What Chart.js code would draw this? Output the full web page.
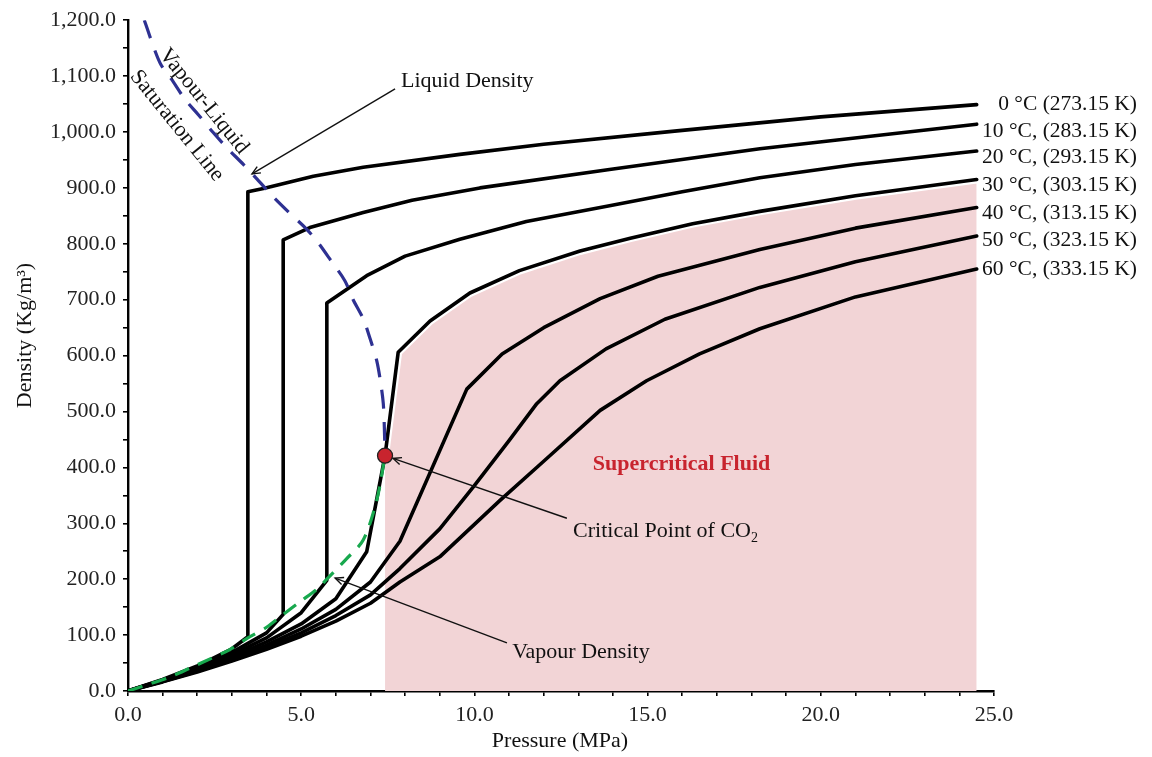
<!DOCTYPE html>
<html><head><meta charset="utf-8">
<script src="https://cdn.jsdelivr.net/npm/chart.js@4.4.0/dist/chart.umd.min.js"></script>
<style>html,body{margin:0;padding:0;background:#fff}#wrap{width:1152px;height:757px;position:relative}</style>
</head><body><div id="wrap"><canvas id="c"></canvas></div>
<script>
// ---------- data (pressure MPa, density kg/m3) ----------
const t0P  = [0, 1, 2, 3, 3.46, 3.46, 3.91, 5.35, 6.79, 9.58, 12.0, 15.85, 20.0, 24.5];
const t0D  = [0, 20.6, 44.7, 75.5, 97, 893, 899, 921, 937, 960, 978, 1002, 1027, 1049];
const t10P = [0, 1, 2, 3, 4, 4.48, 4.48, 5.25, 6.79, 8.2, 10.16, 13.9, 18.24, 24.5];
const t10D = [0, 19.8, 42.2, 69, 104, 137, 807, 829, 856, 878, 900, 933, 970, 1014];
const t20P = [0, 1, 2, 3, 4, 5, 5.74, 5.74, 6.89, 8.0, 9.58, 11.5, 13.9, 16.0, 18.24, 21.0, 24.5];
const t20D = [0, 19, 40.3, 65, 95, 140, 198, 694, 743, 778, 808, 840, 868, 893, 918, 942, 966];
const t30P = [0, 1, 2, 3, 4, 5, 6, 6.89, 7.42, 7.8, 8.72, 9.87, 11.3, 13.05, 14.5, 16.3, 18.24, 21.0, 24.5];
const t30D = [0, 18.2, 38.3, 61, 88, 120, 165, 249, 421, 606, 662, 712, 752, 787, 810, 836, 858, 886, 915];
const t40P = [0, 1, 2, 3, 4, 5, 6, 7, 7.85, 9.78, 10.8, 12.0, 13.63, 15.3, 18.24, 21.0, 24.5];
const t40D = [0, 17.5, 36.7, 58, 82, 111, 146, 195, 268, 540, 603, 650, 702, 742, 790, 828, 865];
const t50P = [0, 1, 2, 3, 4, 5, 6, 7, 7.85, 9.0, 9.97, 11.0, 11.8, 12.47, 13.8, 15.5, 18.24, 21.0, 24.5];
const t50D = [0, 16.9, 35.4, 55.5, 78, 104, 135, 172, 219, 290, 365, 448, 514, 555, 612, 665, 722, 768, 814];
const t60P = [0, 1, 2, 3, 4, 5, 6, 7, 7.85, 9.0, 10.74, 12.0, 13.63, 14.97, 16.5, 18.24, 21.0, 24.5];
const t60D = [0, 16.3, 34.1, 53.4, 74.6, 98, 125, 157, 195, 240, 341, 411, 502, 555, 603, 648, 705, 755];

// vapour-liquid saturation line (liquid side, blue) and vapour density (green)
const satLP = [0.47, 0.92, 1.26, 1.65, 2.03, 2.46, 2.85, 3.33, 3.72, 4.19, 4.63, 5.16, 5.49, 5.88, 6.26, 6.5, 6.79, 6.99, 7.18, 7.3, 7.37, 7.4, 7.42];
const satLD = [1200, 1124, 1094, 1058, 1031, 999, 972, 942, 916, 884, 857, 826, 802, 768, 734, 700, 666, 630, 591, 549, 514, 472, 421];
const satVP = [0, 0.54, 1.21, 1.79, 2.46, 2.94, 3.46, 4.0, 4.48, 4.97, 5.45, 5.74, 6.3, 6.79, 7.18, 7.42];
const satVD = [0, 11, 25, 41, 60, 74, 95, 114, 137, 160, 182, 200, 236, 270, 341, 421];

const critP = [7.42];
const critD = [421];

const tempLabels = ["0 \u00B0C (273.15 K)", "10 \u00B0C, (283.15 K)", "20 \u00B0C, (293.15 K)", "30 \u00B0C, (303.15 K)",
                    "40 \u00B0C, (313.15 K)", "50 \u00B0C, (323.15 K)", "60 \u00B0C, (333.15 K)"];
const tempLabelD = [1050, 1002, 955, 904, 854, 807, 755];

const xTickStep = 1, xLabelStep = 5;
const yTickStep = 50, yLabelStep = 100;

// ---------- build ----------
const FONT = '"Liberation Serif","Times New Roman",serif';
const pts = (P, D) => P.map((p, i) => ({x: p, y: D[i]}));

const fillP = [critP[0], critP[0]].concat(t30P.filter(p => p > critP[0]));
const fillD = [0, critD[0]].concat(t30D.filter((d, i) => t30P[i] > critP[0]));
const haloP = [critP[0]].concat(t30P.filter(p => p > critP[0]));
const haloD = [critD[0]].concat(t30D.filter((d, i) => t30P[i] > critP[0]));

const curve = (P, D) => ({data: pts(P, D), showLine: true, borderColor: '#000', borderWidth: 3.6,
  pointRadius: 0, tension: 0, fill: false, order: 10, borderJoinStyle: 'round', borderCapStyle: 'round'});

const datasets = [
  {data: pts(fillP, fillD), showLine: true, borderWidth: 0, borderColor: 'rgba(0,0,0,0)',
   backgroundColor: 'rgb(242,212,214)', fill: 'origin', pointRadius: 0, tension: 0, order: 30},
  {data: pts(haloP, haloD), showLine: true, borderWidth: 8, borderColor: '#fff', pointRadius: 0,
   tension: 0, fill: false, order: 25, borderJoinStyle: 'round'},
  curve(t0P, t0D), curve(t10P, t10D), curve(t20P, t20D), curve(t30P, t30D),
  curve(t40P, t40D), curve(t50P, t50D), curve(t60P, t60D),
  {data: pts(satLP, satLD), showLine: true, borderColor: 'rgb(46,49,146)', borderWidth: 3.2,
   borderDash: [19, 13], pointRadius: 0, tension: 0.3, fill: false, order: 3},
  {data: pts(satVP, satVD), showLine: true, borderColor: 'rgb(24,168,78)', borderWidth: 3.2,
   borderDash: [15, 10], pointRadius: 0, tension: 0.3, fill: false, order: 2},
  {data: pts(critP, critD), showLine: false, pointRadius: 7.5, pointBackgroundColor: 'rgb(200,36,46)',
   pointBorderColor: '#222', pointBorderWidth: 1.3, order: 1}
];

function fmtY(v) { return v.toLocaleString('en-US', {minimumFractionDigits: 1, maximumFractionDigits: 1}); }

function arrow(ctx, x1, y1, x2, y2) {
  const a = Math.atan2(y2 - y1, x2 - x1), L = 9, w = 0.42;
  ctx.beginPath(); ctx.moveTo(x1, y1); ctx.lineTo(x2, y2); ctx.stroke();
  ctx.beginPath();
  ctx.moveTo(x2 - L * Math.cos(a - w), y2 - L * Math.sin(a - w));
  ctx.lineTo(x2, y2);
  ctx.lineTo(x2 - L * Math.cos(a + w), y2 - L * Math.sin(a + w));
  ctx.stroke();
}

const annot = {
  id: 'annot',
  afterDraw(chart) {
    const ctx = chart.ctx, xs = chart.scales.x, ys = chart.scales.y;
    const X = v => xs.getPixelForValue(v), Y = v => ys.getPixelForValue(v);
    ctx.save();
    ctx.fillStyle = '#111'; ctx.strokeStyle = '#111'; ctx.lineWidth = 1.4;
    ctx.font = '22px ' + FONT;
    ctx.textAlign = 'left'; ctx.textBaseline = 'alphabetic';
    // Liquid density
    ctx.fillText('Liquid Density', X(7.88), Y(1080));
    arrow(ctx, X(7.71), Y(1077), X(3.58), Y(925));
    // Critical point
    const cx = X(critP[0]), cy = Y(critD[0]);
    const tx = X(12.67), ty = Y(309);
    const ang = Math.atan2(ty - cy, tx - cx);
    arrow(ctx, tx, ty, cx + 8.5 * Math.cos(ang), cy + 8.5 * Math.sin(ang));
    const s = 'Critical Point of CO';
    ctx.fillText(s, X(12.85), Y(276));
    const sw = ctx.measureText(s).width;
    ctx.font = '14px ' + FONT;
    ctx.fillText('2', X(12.85) + sw, Y(276) + 5);
    ctx.font = '22px ' + FONT;
    // Vapour density
    ctx.fillText('Vapour Density', X(11.09), Y(59));
    arrow(ctx, X(10.94), Y(86), X(5.98), Y(202));
    // Supercritical
    ctx.fillStyle = 'rgb(200,36,46)';
    ctx.font = 'bold 22px ' + FONT;
    ctx.fillText('Supercritical Fluid', X(13.42), Y(395));
    // Rotated saturation label
    ctx.fillStyle = '#111';
    ctx.font = '22px ' + FONT;
    ctx.textAlign = 'center'; ctx.textBaseline = 'middle';
    const rot = 51 * Math.PI / 180;
    [['Vapour-Liquid', 2.19, 1055], ['Saturation Line', 1.41, 1011]].forEach(([t, p, d]) => {
      ctx.save(); ctx.translate(X(p), Y(d)); ctx.rotate(rot); ctx.fillText(t, 0, 0); ctx.restore();
    });
    // temperature labels
    ctx.font = '21.5px ' + FONT;
    ctx.textAlign = 'right';
    tempLabels.forEach((t, i) => ctx.fillText(t, chart.chartArea.right + 143, Y(tempLabelD[i])));
    // axis titles
    ctx.font = '22px ' + FONT;
    ctx.textAlign = 'center';
    ctx.fillText('Pressure (MPa)', (chart.chartArea.left + chart.chartArea.right) / 2 - 1, 741);
    ctx.save(); ctx.translate(25, Y(636)); ctx.rotate(-Math.PI / 2);
    ctx.fillText('Density (Kg/m\u00B3)', 0, 0); ctx.restore();
    ctx.restore();
  }
};

new Chart(document.getElementById('c'), {
  type: 'scatter',
  data: {datasets},
  options: {
    responsive: true, maintainAspectRatio: false, animation: false,
    layout: {padding: {top: 19, right: 158, left: 0, bottom: 0}},
    plugins: {legend: {display: false}, tooltip: {enabled: false}},
    scales: {
      x: {
        type: 'linear', min: 0, max: 25,
        afterFit: s => { s.height = 66; },
        ticks: {stepSize: xTickStep, autoSkip: false, maxRotation: 0, padding: 6, color: '#222',
          font: {family: FONT, size: 22},
          callback: v => (Math.abs(v % xLabelStep) < 1e-9 ? v.toFixed(1) : '')},
        grid: {drawOnChartArea: false, drawTicks: true, tickLength: 5, color: '#000', lineWidth: 1.6},
        border: {display: true, color: '#000', width: 2.4}
      },
      y: {
        type: 'linear', min: 0, max: 1200,
        afterFit: s => { s.width = 128; },
        ticks: {stepSize: yTickStep, autoSkip: false, padding: 7, color: '#222',
          font: {family: FONT, size: 22},
          callback: v => (Math.abs(v % yLabelStep) < 1e-9 ? fmtY(v) : '')},
        grid: {drawOnChartArea: false, drawTicks: true, tickLength: 5, color: '#000', lineWidth: 1.6},
        border: {display: true, color: '#000', width: 2.4}
      }
    }
  },
  plugins: [annot]
});
</script></body></html>
